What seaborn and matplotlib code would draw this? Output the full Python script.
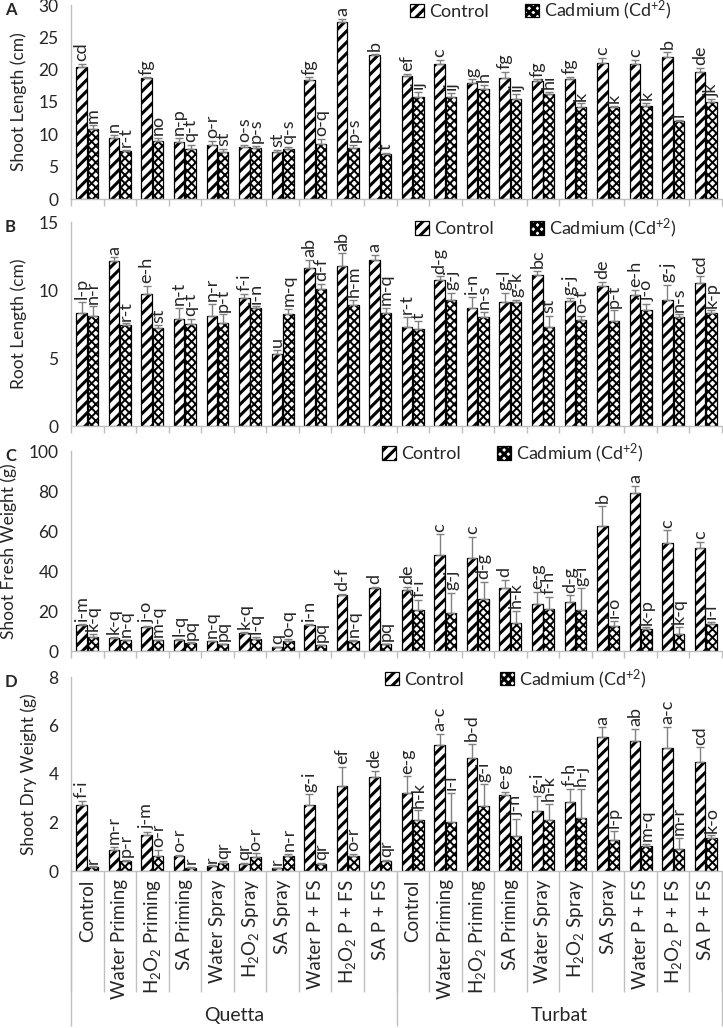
import numpy as np
import pandas as pd
import matplotlib
matplotlib.use('Agg')
import matplotlib.pyplot as plt
import seaborn as sns
from matplotlib.patches import Patch

# ── Data ────────────────────────────────────────────────────────────────
treatments = ['Control', 'Water Priming', r'H$_2$O$_2$ Priming', 'SA Priming', 'Water Spray',
              r'H$_2$O$_2$ Spray', 'SA Spray', 'Water P + FS', r'H$_2$O$_2$ P + FS', 'SA P + FS']
locations = ['Quetta', 'Turbat']
conditions = ['Control', 'Cadmium']

# A : shoot length (cm)
sl_ctrl = [20.4, 9.5, 18.7, 8.8, 8.4, 8.1, 7.3, 18.4, 27.3, 22.3,
           19.0, 20.8, 18.0, 18.7, 18.3, 18.5, 21.0, 20.9, 22.0, 19.6]
sl_ctrl_err = [0.5, 0.4, 0.1, 0.6, 0.6, 0.3, 0.3, 0.4, 0.5, 0.2,
               0.3, 0.7, 0.5, 1.0, 0.2, 0.4, 0.8, 0.6, 0.8, 0.7]
sl_cd = [10.9, 7.5, 9.0, 7.8, 7.3, 7.9, 7.8, 8.5, 7.9, 6.9,
         15.8, 15.8, 17.0, 15.5, 16.2, 14.2, 14.3, 14.4, 12.1, 15.0]
sl_cd_err = [0.5, 0.1, 0.4, 0.6, 0.5, 0.3, 0.3, 0.8, 0.5, 0.2,
             0.8, 0.6, 0.6, 0.7, 0.4, 0.6, 0.1, 0.5, 0.1, 0.4]
sl_ctrl_let = ['cd', 'n', 'fg', 'n-p', 'o-r', 'o-s', 'st', 'fg', 'a', 'b',
               'ef', 'c', 'g', 'fg', 'fg', 'fg', 'c', 'c', 'b', 'de']
sl_cd_let = ['m', 'r-t', 'no', 'q-t', 'st', 'p-s', 'q-s', 'o-q', 'p-s', 't',
             'ij', 'ij', 'h', 'ij', 'hi', 'k', 'k', 'k', 'l', 'jk']

# B : root length (cm)
rl_ctrl = [8.3, 12.1, 9.7, 7.9, 8.1, 9.4, 5.3, 11.6, 11.8, 12.2,
           7.3, 10.7, 8.7, 9.1, 11.1, 9.2, 10.3, 9.6, 9.3, 10.5]
rl_ctrl_err = [0.8, 0.3, 0.6, 0.8, 0.9, 0.3, 0.3, 0.6, 0.9, 0.4,
               0.7, 0.3, 0.8, 0.7, 0.3, 0.2, 0.3, 0.4, 1.1, 0.5]
rl_cd = [8.1, 7.4, 7.2, 7.5, 7.6, 8.7, 8.2, 10.1, 8.9, 8.3,
         7.1, 9.3, 8.0, 9.1, 7.3, 7.8, 7.7, 8.5, 8.0, 8.3]
rl_cd_err = [0.7, 0.15, 0.2, 0.4, 0.6, 0.1, 0.4, 0.35, 0.4, 0.4,
             0.6, 0.5, 0.4, 0.2, 0.8, 0.3, 0.8, 0.5, 0.2, 0.2]
rl_ctrl_let = ['l-p', 'a', 'e-h', 'n-t', 'n-r', 'f-i', 'u', 'ab', 'ab', 'a',
               'r-t', 'd-g', 'i-n', 'g-l', 'bc', 'g-j', 'de', 'e-h', 'g-j', 'cd']
rl_cd_let = ['n-r', 'r-t', 'st', 'q-t', 'p-t', 'i-n', 'm-q', 'd-f', 'h-m', 'm-q',
             't', 'g-j', 'n-s', 'g-k', 'st', 'o-t', 'p-t', 'j-o', 'n-s', 'k-p']

# C : shoot fresh weight (g)
fw_ctrl = [13.0, 6.7, 12.0, 5.7, 5.0, 9.2, 1.8, 13.0, 28.0, 31.7,
           30.7, 47.8, 46.5, 31.7, 23.3, 24.3, 62.7, 78.8, 54.0, 51.7]
fw_ctrl_err = [0.5, 0.3, 0.5, 0.3, 0.2, 0.4, 0.1, 0.7, 0.4, 0.5,
               1.5, 10.5, 10.5, 4.0, 6.2, 3.5, 10.0, 3.7, 6.3, 2.8]
fw_cd = [7.0, 5.3, 5.3, 4.0, 3.3, 6.2, 5.0, 3.0, 5.0, 3.3,
         20.3, 19.2, 25.8, 14.2, 21.2, 20.3, 12.5, 10.8, 8.3, 13.3]
fw_cd_err = [1.5, 0.3, 0.3, 0.3, 0.2, 0.8, 0.8, 0.2, 0.4, 0.2,
             5.4, 10.0, 8.8, 5.8, 6.0, 11.0, 2.5, 1.0, 3.7, 1.2]
fw_ctrl_let = ['i-m', 'k-q', 'j-o', 'l-q', 'n-q', 'k-q', 'q', 'i-n', 'd-f', 'd',
               'de', 'c', 'c', 'd', 'e-g', 'd-g', 'b', 'a', 'c', 'c']
fw_cd_let = ['k-q', 'n-q', 'm-q', 'pq', 'pq', 'l-q', 'o-q', 'pq', 'n-q', 'pq',
             'f-i', 'g-j', 'd-g', 'h-k', 'f-h', 'g-i', 'i-o', 'k-p', 'k-q', 'i-l']

# D : shoot dry weight (g)
dw_ctrl = [2.72, 0.86, 1.48, 0.62, 0.2, 0.3, 0.12, 2.72, 3.52, 3.89,
           3.2, 5.2, 4.68, 3.13, 2.47, 2.86, 5.52, 5.38, 5.08, 4.48]
dw_ctrl_err = [0.18, 0.13, 0.12, 0.05, 0.03, 0.03, 0.02, 0.44, 0.78, 0.25,
               0.7, 0.45, 0.55, 0.14, 0.62, 0.52, 0.4, 0.48, 0.85, 0.62]
dw_cd = [0.17, 0.42, 0.6, 0.14, 0.35, 0.58, 0.62, 0.3, 0.6, 0.4,
         2.1, 2.04, 2.67, 1.45, 2.1, 2.19, 1.28, 1.03, 0.9, 1.37]
dw_cd_err = [0.02, 0.05, 0.28, 0.02, 0.05, 0.15, 0.1, 0.05, 0.1, 0.05,
             0.4, 1.17, 0.9, 0.7, 0.66, 1.2, 0.37, 0.1, 0.48, 0.1]
dw_ctrl_let = ['f-i', 'm-r', 'j-m', 'o-r', 'r', 'qr', 'r', 'g-i', 'ef', 'de',
               'e-g', 'a-c', 'b-d', 'e-g', 'g-i', 'f-h', 'a', 'ab', 'a-c', 'cd']
dw_cd_let = ['r', 'p-r', 'o-r', 'r', 'qr', 'o-r', 'n-r', 'qr', 'o-r', 'qr',
             'h-k', 'i-l', 'g-i', 'j-n', 'h-k', 'h-j', 'l-p', 'm-q', 'm-r', 'k-o']

# ── Style ───────────────────────────────────────────────────────────────
sns.set_style('white')
plt.rcParams['font.family'] = ['Lato', 'DejaVu Sans']
plt.rcParams['mathtext.fontset'] = 'custom'
plt.rcParams['mathtext.rm'] = 'Lato'
plt.rcParams['mathtext.it'] = 'Lato:italic'
plt.rcParams['hatch.linewidth'] = 2.2
GRAY = '#bfbfbf'
HATCH = {'Control': ('///', 2.2), 'Cadmium': ('xxxx', 1.4)}

group_ids = [f'{loc}|{i}' for loc in locations for i in range(len(treatments))]

panels = [
    ('A', 'Shoot Length (cm)', sl_ctrl, sl_ctrl_err, sl_cd, sl_cd_err, sl_ctrl_let, sl_cd_let,
     (0, 30), 5, (0.51, 0.972)),
    ('B', 'Root Length (cm)', rl_ctrl, rl_ctrl_err, rl_cd, rl_cd_err, rl_ctrl_let, rl_cd_let,
     (0, 15), 5, (0.518, 0.97)),
    ('C', 'Shoot Fresh Weight (g)', fw_ctrl, fw_ctrl_err, fw_cd, fw_cd_err, fw_ctrl_let, fw_cd_let,
     (0, 100), 20, (0.467, 0.99)),
    ('D', 'Shoot Dry Weight (g)', dw_ctrl, dw_ctrl_err, dw_cd, dw_cd_err, dw_ctrl_let, dw_cd_let,
     (0, 8), 2, (0.472, 0.99)),
]

# axes boxes in pixels (top, bottom) on a 723x1028 canvas
W, H = 723, 1028
boxes = [(5, 199), (222, 426), (451, 651), (677, 871)]
x0, x1 = 71, 722


def style_bar(patch, cond):
    h, lw = HATCH[cond]
    patch.set_facecolor('white')
    patch.set_edgecolor('black')
    patch.set_linewidth(0.9)
    patch.set_hatch(h)
    if hasattr(patch, 'set_hatch_linewidth'):
        patch.set_hatch_linewidth(lw)


fig = plt.figure(figsize=(W / 100, H / 100), dpi=100)

for (letter, ylabel, c, ce, d, de, cl, dl, ylim, step, leg_pos), (top, bot) in zip(panels, boxes):
    ax = fig.add_axes([x0 / W, 1 - bot / H, (x1 - x0) / W, (bot - top) / H])
    df = pd.DataFrame({
        'group': group_ids * 2,
        'value': c + d,
        'err': ce + de,
        'letter': cl + dl,
        'cond': ['Control'] * 20 + ['Cadmium'] * 20,
    })
    sns.barplot(data=df, x='group', y='value', hue='cond', order=group_ids,
                hue_order=conditions, errorbar=None, width=0.7, gap=0.08,
                palette=['white', 'white'], legend=False, ax=ax)

    bar_conts = list(ax.containers)
    for k, cont in enumerate(bar_conts):
        sub = df[df['cond'] == conditions[k]].reset_index(drop=True)
        xs = [b.get_x() + b.get_width() / 2 for b in cont]
        hs = [b.get_height() for b in cont]
        for b in cont:
            style_bar(b, conditions[k])
        ax.errorbar(xs, hs, yerr=[np.zeros(len(hs)), sub['err']], fmt='none',
                    ecolor='#808080', elinewidth=1.0, capsize=3, capthick=1.0)
        for xx, hh, ee, lt in zip(xs, hs, sub['err'], sub['letter']):
            ax.annotate(lt, (xx, hh + ee), xytext=(0, 2), textcoords='offset points',
                        rotation=90, ha='center', va='bottom', fontsize=13, clip_on=False)

    ax.set_xlim(-0.5, 19.5)
    ax.set_ylim(*ylim)
    ax.set_yticks(np.arange(ylim[0], ylim[1] + step / 2, step))
    ax.tick_params(axis='y', length=0, labelsize=12.5, pad=9)
    ax.set_ylabel(ylabel, fontsize=12.5, labelpad=8)
    ax.set_xlabel('')
    for s in ['top', 'right']:
        ax.spines[s].set_visible(False)
    for s in ['left', 'bottom']:
        ax.spines[s].set_color(GRAY)
        ax.spines[s].set_linewidth(1.0)

    bounds = np.arange(-0.5, 20, 1.0)
    trans = ax.get_xaxis_transform()
    if letter != 'D':
        ax.set_xticks([])
        ax.vlines(bounds, -0.036, 0, transform=trans, colors=GRAY, lw=1.0, clip_on=False)
    else:
        ax.set_xticks(range(20))
        ax.set_xticklabels(treatments * 2, rotation=90, fontsize=13.5)
        ax.tick_params(axis='x', length=0, pad=6)
        ax.vlines(bounds, -0.624, 0, transform=trans, colors=GRAY, lw=1.0, clip_on=False)
        ax.vlines([-0.5, 9.5, 19.5], -0.80, 0, transform=trans, colors=GRAY, lw=1.0, clip_on=False)
        for j, loc in enumerate(locations):
            ax.text(4.5 + 10 * j, -0.745, loc, transform=trans, ha='center', va='center',
                    fontsize=14)

    handles = []
    for cond, lab in zip(conditions, ['Control', 'Cadmium (Cd$^{+2}$)']):
        p = Patch(label=lab)
        style_bar(p, cond)
        handles.append(p)
    ax.legend(handles=handles, loc='center left', bbox_to_anchor=leg_pos, ncol=2,
              frameon=False, fontsize=13, handlelength=0.75, handleheight=0.75,
              handletextpad=0.3, columnspacing=2.0, borderaxespad=0)

    fig.text(5 / W, 1 - (top + 5) / H, letter, fontsize=12, fontweight='bold',
             ha='left', va='center')

fig.savefig('out.png', dpi=100)
plt.close()
